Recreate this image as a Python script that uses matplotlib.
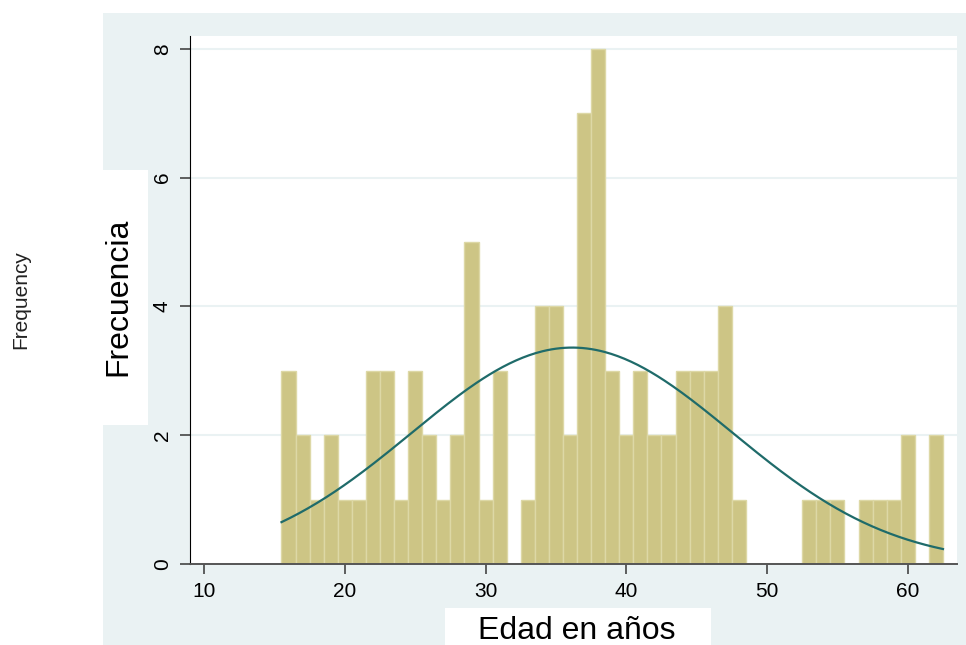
import numpy as np
import matplotlib.pyplot as plt
from matplotlib.patches import Rectangle

plt.rcParams['font.family'] = ['Liberation Sans', 'DejaVu Sans']

# edad (centro de cada barra) y frecuencia
edades = list(range(16, 63))
frecuencia = [3, 2, 1, 2, 1, 1, 3, 3, 1, 3, 2, 1, 2, 5, 1, 3,
              0, 1, 4, 4, 2, 7, 8, 3,
              2, 3, 2, 2, 3, 3, 3, 4, 1,
              0, 0, 0, 0, 1, 1, 1, 0, 1, 1, 1, 2, 0, 2]
xticks = [10, 20, 30, 40, 50, 60]
yticks = [0, 2, 4, 6, 8]

bg = '#eaf2f3'
barcol = '#cdc585'
linecol = '#1f6b6a'

edades = np.array(edades)
frecuencia = np.array(frecuencia)

fig = plt.figure(figsize=(9.66, 6.45), dpi=100)
fig.patches.append(Rectangle((0.1066, 0), 0.8934, 0.9798, transform=fig.transFigure,
                             facecolor=bg, edgecolor='none', zorder=-5))
fig.patches.append(Rectangle((0.1066, 0.3411), 0.0466, 0.3953, transform=fig.transFigure,
                             facecolor='white', edgecolor='none', zorder=-4))
fig.patches.append(Rectangle((0.4607, 0), 0.2754, 0.0574, transform=fig.transFigure,
                             facecolor='white', edgecolor='none', zorder=-4))

ax = fig.add_axes([0.1967, 0.1256, 0.794, 0.8186])
ax.set_facecolor('white')
ax.bar(edades, frecuencia, width=1.0, color=barcol, edgecolor='#ddd8a6', linewidth=1.0, zorder=2)

# curva normal ajustada a los datos
n = frecuencia.sum()
media = (edades * frecuencia).sum() / n
sd = np.sqrt((frecuencia * (edades - media) ** 2).sum() / (n - 1))
xs = np.linspace(edades[0] - 0.5, edades[-1] + 0.5, 300)
ys = n * np.exp(-0.5 * ((xs - media) / sd) ** 2) / (sd * np.sqrt(2 * np.pi))
ax.plot(xs, ys, color=linecol, linewidth=1.6, zorder=3)

ax.set_xlim(9.0, 63.5)
ax.set_ylim(0, 8.2)
ax.set_xticks(xticks)
ax.set_yticks(yticks)
ax.set_yticklabels([str(t) for t in yticks], rotation=90, va='center')
ax.tick_params(axis='both', labelsize=15, length=7, width=1.2, color='#444444', pad=6)
ax.grid(axis='y', color=bg, linewidth=1.5, zorder=0)
ax.set_axisbelow(True)
for s in ['top', 'right']:
    ax.spines[s].set_visible(False)
ax.spines['left'].set_color('black')
ax.spines['bottom'].set_color('#555555')
ax.spines['bottom'].set_linewidth(1.4)

fig.text(0.123, 0.54, 'Frecuencia', rotation=90, fontsize=23, ha='center', va='center')
fig.text(0.021, 0.535, 'Frequency', rotation=90, fontsize=15, ha='center', va='center', color='#222222')
fig.text(0.597, 0.021, 'Edad en años', fontsize=23, ha='center', va='center')

fig.savefig('out.png', dpi=100, facecolor='white')
